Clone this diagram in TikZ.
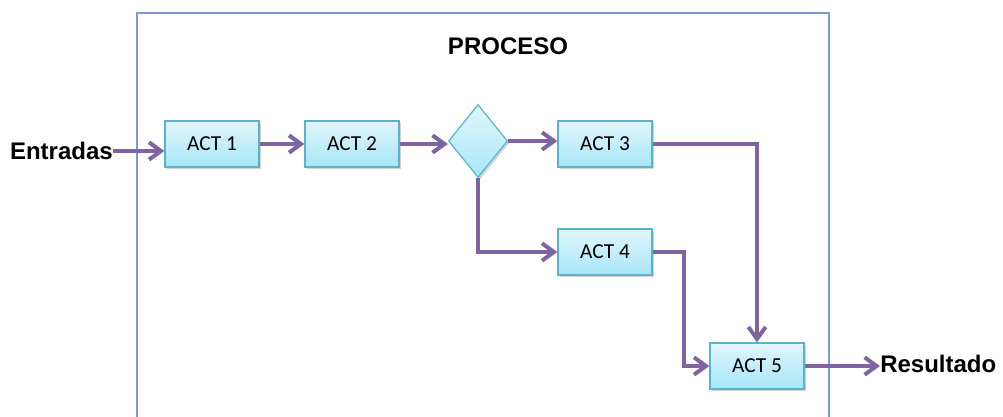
\documentclass[tikz,border=0pt]{standalone}
\usepackage{fontspec}
\setmainfont{Liberation Sans}
\newfontfamily\actfont{Carlito}
\usetikzlibrary{arrows.meta,shapes.geometric,shadows}
\definecolor{arrowc}{HTML}{8064A2}
\definecolor{framec}{HTML}{7A9AD6}
\definecolor{boxborder}{HTML}{5BB3CB}
\definecolor{boxtop}{HTML}{E2F6FC}
\definecolor{boxbot}{HTML}{A6E6F7}
\tikzset{
  actbox/.style={draw=boxborder, line width=0.9pt, top color=boxtop, bottom color=boxbot,
    minimum width=94*0.75pt, minimum height=46*0.75pt, inner sep=0pt,
    font=\actfont\fontsize{16}{16}\selectfont,
    drop shadow={shadow xshift=1.5pt, shadow yshift=-1.5pt, opacity=0.35, fill=gray}},
  decision/.style={diamond, draw=boxborder, line width=0.9pt, top color=boxtop, bottom color=boxbot,
    minimum width=59*0.75pt, minimum height=73*0.75pt, inner sep=0pt, aspect=0.8,
    drop shadow={shadow xshift=1.5pt, shadow yshift=-1.5pt, opacity=0.35, fill=gray}},
  flow/.style={draw=arrowc, line width=3pt, -{Straight Barb[length=9pt, width=13pt, line width=3pt]}},
  bigtext/.style={font=\bfseries\fontsize{18}{18}\selectfont, inner sep=0pt}
}
\begin{document}
\begin{tikzpicture}[x=0.75pt,y=-0.75pt]
\useasboundingbox (0,0) rectangle (1003,417);
\draw[framec, line width=0.9pt] (137,417) -- (137,13) -- (829,13) -- (829,417);
\node[bigtext] (proceso) at (508,46) {PROCESO};
\node[bigtext, anchor=east] (ent) at (113,151) {Entradas};
\node[bigtext, anchor=west] (res) at (880,364) {Resultado};
\node[actbox] (act1) at (212,144) {ACT 1};
\node[actbox] (act2) at (352,144) {ACT 2};
\node[decision] (dia) at (478,141) {};
\node[actbox] (act3) at (605,144) {ACT 3};
\node[actbox] (act4) at (605,252) {ACT 4};
\node[actbox] (act5) at (757,366) {ACT 5};
\draw[flow] (ent.east) -- (ent.east -| act1.west);
\draw[flow] (act1.east) -- (act2.west);
\draw[flow] (act2.east) -- (act2.east -| dia.west);
\draw[flow] (dia.east) -- (dia.east -| act3.west);
\draw[flow] (dia.south) |- (act4.west);
\draw[flow] (act3.east) -| (act5.north);
\draw[flow] (act4.east) -- ++(31,0) |- (act5.west);
\draw[flow] (act5.east) -- (act5.east -| res.west);
\end{tikzpicture}
\end{document}
